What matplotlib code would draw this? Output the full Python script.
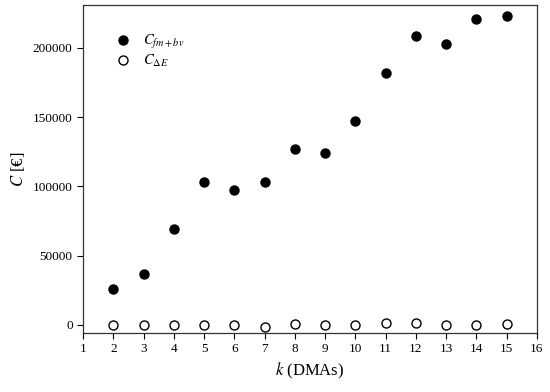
import matplotlib
matplotlib.use('Agg')
import matplotlib.pyplot as plt

plt.rcParams['font.family'] = ['Liberation Serif', 'DejaVu Serif']
plt.rcParams['mathtext.fontset'] = 'stix'

# number of DMAs
k = [2, 3, 4, 5, 6, 7, 8, 9, 10, 11, 12, 13, 14, 15]
# C_fm+bv
c_fmbv = [26000, 36800, 69300, 103200, 97400, 103000, 127000, 124100,
          147200, 181800, 208500, 203200, 220600, 223200]
# C_dE
c_de = [0, 0, 0, 0, -500, -1400, 200, 0, -500, 1200, 1400, 0, 0, 300]

xticks = list(range(1, 17))
yticks = [0, 50000, 100000, 150000, 200000]

fig = plt.figure(figsize=(5.5, 3.92), dpi=100)
ax = fig.add_axes([0.151, 0.1505, 0.825, 0.8365])

ax.plot(k, c_fmbv, 'o', color='black', markersize=6.5, label=r'$C_{fm+bv}$')
ax.plot(k, c_de, 'o', markerfacecolor='white', markeredgecolor='black',
        markeredgewidth=1.0, markersize=6.5, label=r'$C_{\Delta E}$')

ax.set_xlim(1, 16)
ax.set_ylim(-6000, 231000)
ax.set_xticks(xticks)
ax.set_yticks(yticks)
ax.tick_params(direction='out', length=4, labelsize=9.5)

ax.set_xlabel(r'$k$ (DMAs)', fontsize=12)
ax.set_ylabel(r'$C$ [€]', fontsize=12)

for s in ax.spines.values():
    s.set_linewidth(0.9)
    s.set_color('#333333')

ax.legend(loc='upper left', frameon=False, fontsize=10.5,
          bbox_to_anchor=(0.035, 0.955), handlelength=1.5,
          handletextpad=0.6, labelspacing=0.15)

plt.savefig('out.png', dpi=100)
